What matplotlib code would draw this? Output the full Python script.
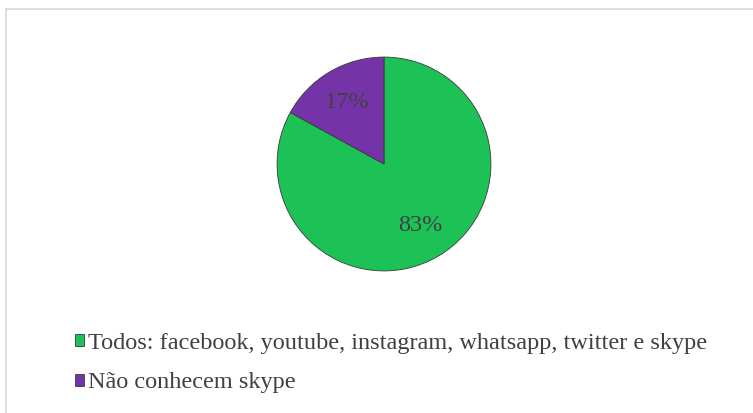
import numpy as np
import matplotlib.pyplot as plt
from matplotlib.lines import Line2D

# data
labels = ['Todos: facebook, youtube, instagram, whatsapp, twitter e skype',
          'Não conhecem skype']
shares = [83, 17]
colors = ['#1cc256', '#7434a8']

plt.rcParams['font.family'] = ['Liberation Serif', 'DejaVu Serif']

W, H = 753, 413
fig = plt.figure(figsize=(W / 100, H / 100), dpi=100)

# pie in a square box, center ~ (384, 164) px, radius ~108 px
cx, cy, r = 384, 164, 108
ax = fig.add_axes([(cx - r) / W, (H - cy - r) / H, 2 * r / W, 2 * r / H])
wedges, texts, autotexts = ax.pie(
    shares, colors=colors, startangle=90, counterclock=False,
    autopct=lambda p: '%d%%' % round(p), pctdistance=0.67,
    wedgeprops=dict(edgecolor='#3a3a3a', linewidth=0.6),
    textprops=dict(fontsize=17.5, color='#404040'))
ax.set_xlim(-1.01, 1.01)
ax.set_ylim(-1.01, 1.01)
ax.set_aspect('equal')

# legend below the pie
fig.legend(wedges, labels, loc='upper left', bbox_to_anchor=(75 / W, 1 - 333 / H),
           frameon=False, fontsize=17.5, labelcolor='#404040',
           handlelength=0.35, handleheight=0.4, handletextpad=0.2,
           labelspacing=0.76, borderpad=0, borderaxespad=0)

# thin frame lines along the top and left
fig.add_artist(Line2D([6 / W, 1], [1 - 9 / H, 1 - 9 / H], color='#d9d9d9', lw=1.2))
fig.add_artist(Line2D([6 / W, 6 / W], [0, 1 - 9 / H], color='#d9d9d9', lw=1.2))

fig.savefig('out.png', dpi=100)
